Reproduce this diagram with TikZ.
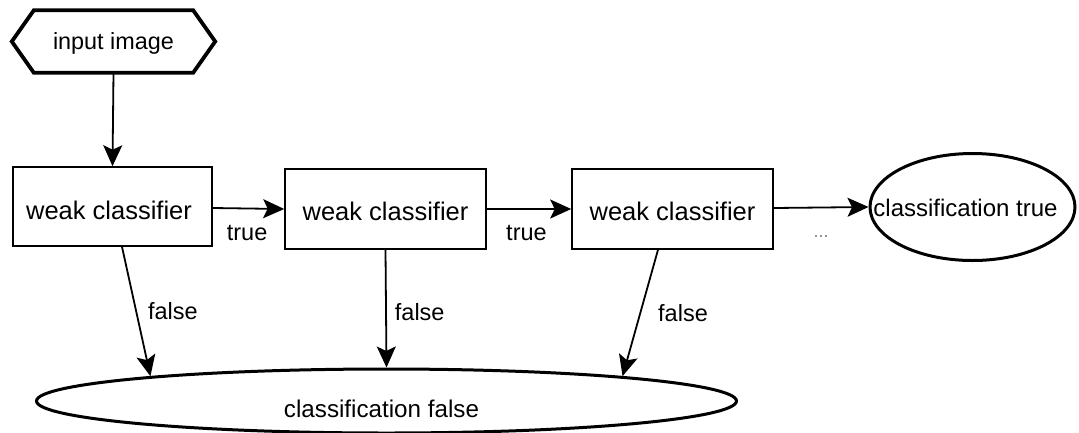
\documentclass[tikz,border=0pt]{standalone}
\usepackage{fontspec}
\setmainfont{Liberation Sans}
\usetikzlibrary{shapes.geometric,arrows.meta,calc}
\newcommand{\lowertext}[2]{\raisebox{-#1}[\height][\depth]{#2}}
\begin{document}
\begin{tikzpicture}[x=1pt,y=-1pt,
  classbox/.style={draw,line width=1.6pt,minimum width=199pt,minimum height=79pt,inner sep=0pt,font=\fontsize{25.5}{29}\selectfont},
  oval/.style={draw,ellipse,line width=3pt,inner sep=0pt},
  conn/.style={line width=1.8pt,-{Stealth[length=21pt,width=19pt,inset=4.5pt]}},
  lbl/.style={inner sep=0pt,font=\fontsize{23.5}{27}\selectfont},
  hexline/.style={line width=3.8pt,line join=miter}]
\useasboundingbox (0,0) rectangle (1079,432);
% input hexagon
\node[inner sep=0pt,minimum width=203pt,minimum height=62pt,font=\fontsize{23.4}{27}\selectfont] (in) at (113.5,41.5) {\lowertext{2pt}{input image}};
\draw[hexline] (in.west) -- ([xshift=22pt]in.north west) -- ([xshift=-22pt]in.north east) -- (in.east) -- ([xshift=-22pt]in.south east) -- ([xshift=22pt]in.south west) -- cycle;
% classifiers
\node[classbox] (b1) at (112.5,206.5) {\hspace*{-7pt}\lowertext{3.5pt}{weak classifier}};
\node[classbox,minimum width=201pt,minimum height=80pt] (b2) at (385.5,209) {\lowertext{2.5pt}{weak classifier}};
\node[classbox,minimum width=201pt,minimum height=80pt] (b3) at (672.5,209) {\lowertext{2.5pt}{weak classifier}};
% outcomes
\node[oval,minimum width=205pt,minimum height=107pt] (t) at (972.5,207) {};
\node[lbl,font=\fontsize{24}{28}\selectfont] (tt) at ($(t.center)+(-7,1)$) {classification true};
\node[oval,minimum width=700pt,minimum height=64pt] (f) at (386.5,401) {};
\node[lbl,font=\fontsize{24.2}{28}\selectfont] (ft) at ($(f.center)+(-5,8)$) {classification false};
% connectors
\draw[conn] (in.south) -- (b1.north);
\draw[conn] ([yshift=-1.5pt]b1.east) -- node[lbl,pos=0.48,anchor=north,yshift=-16pt] (l1) {true} (b2.west);
\draw[conn] (b2.east) -- node[lbl,pos=0.47,anchor=north,yshift=-15pt] (l2) {true} (b3.west);
\draw[conn] ([yshift=1pt]b3.east) -- node[pos=0.5,anchor=north,yshift=-27pt,inner sep=0pt,text=gray,font=\fontsize{18}{20}\selectfont] (l3) {...} (t.west);
\draw[conn] ([xshift=9.5pt]b1.south) -- node[lbl,pos=0.5,anchor=west,xshift=11pt] (l4) {false} (f.174.3);
\draw[conn] (b2.south) -- node[lbl,pos=0.5,anchor=west,xshift=8pt,yshift=-3pt] (l5) {false} (f.north);
\draw[conn] ([xshift=-14.5pt]b3.south) -- node[lbl,pos=0.5,anchor=west,xshift=17pt] (l6) {false} (f.6.6);
\end{tikzpicture}
\end{document}
